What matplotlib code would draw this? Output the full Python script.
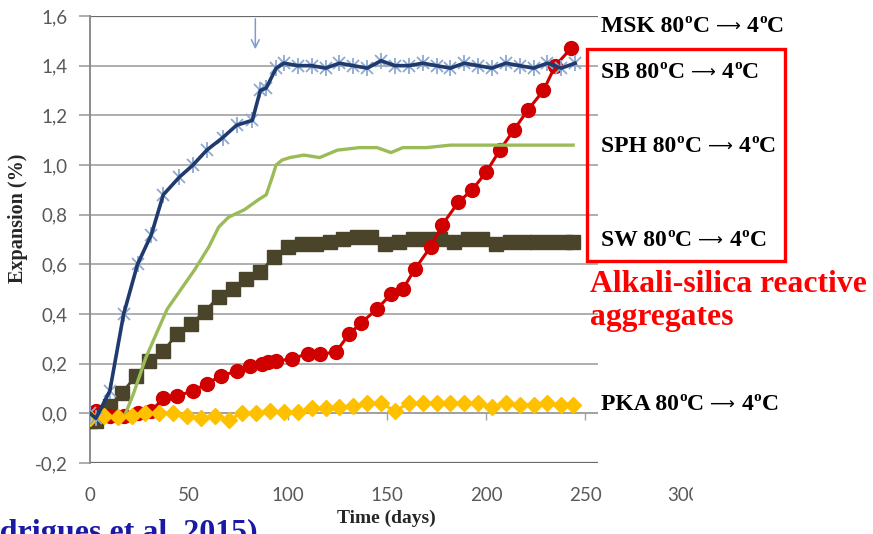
import matplotlib
matplotlib.use("Agg")
import matplotlib.pyplot as plt
from matplotlib.patches import Rectangle
from matplotlib.text import Annotation

# ---- data (expansion in %, time in days) ----
msk_days = [0, 3, 10, 17, 24, 31, 37, 45, 52, 59, 67, 74, 82, 86, 89, 94, 98, 105, 112,
            119, 126, 133, 140, 147, 154, 161, 168, 175, 182, 189, 196, 203, 210, 217,
            224, 231, 238, 245]
msk_vals = [0.0, -0.02, 0.09, 0.40, 0.60, 0.72, 0.88, 0.95, 1.00, 1.06, 1.11, 1.16, 1.18,
            1.30, 1.31, 1.39, 1.41, 1.40, 1.40, 1.39, 1.41, 1.40, 1.39, 1.42, 1.40, 1.40,
            1.41, 1.40, 1.39, 1.41, 1.40, 1.39, 1.41, 1.40, 1.39, 1.41, 1.39, 1.41]

sb_days = [0, 3, 10, 17, 24, 31, 37, 44, 52, 59, 66, 74, 81, 87, 90, 94, 102, 110, 116,
           124, 131, 137, 145, 152, 158, 164, 172, 178, 186, 193, 200, 207, 214, 221,
           229, 235, 243]
sb_vals = [0.0, 0.01, -0.01, -0.01, 0.0, 0.01, 0.06, 0.07, 0.09, 0.12, 0.15, 0.17, 0.19,
           0.20, 0.205, 0.21, 0.22, 0.24, 0.24, 0.245, 0.32, 0.365, 0.42, 0.48, 0.50,
           0.58, 0.67, 0.76, 0.85, 0.90, 0.97, 1.06, 1.14, 1.22, 1.30, 1.40, 1.47]

sph_days = [18, 22, 28, 34, 39, 46, 53, 60, 65, 70, 78, 85, 89, 92, 94, 97, 101, 108,
            116, 125, 136, 145, 152, 158, 170, 182, 195, 210, 225, 244]
sph_vals = [0.0, 0.08, 0.22, 0.33, 0.42, 0.50, 0.58, 0.67, 0.75, 0.79, 0.82, 0.86, 0.88,
            0.95, 1.00, 1.02, 1.03, 1.04, 1.03, 1.06, 1.07, 1.07, 1.05, 1.07, 1.07, 1.08,
            1.08, 1.08, 1.08, 1.08]

sw_days = [0, 3, 10, 16, 23, 30, 37, 44, 51, 58, 65, 72, 79, 86, 93, 100, 107, 114, 121,
           128, 135, 142, 149, 156, 163, 170, 177, 184, 191, 198, 205, 212, 219, 226,
           233, 240, 244]
sw_vals = [-0.03, -0.03, 0.03, 0.08, 0.15, 0.21, 0.25, 0.32, 0.36, 0.41, 0.47, 0.50,
           0.54, 0.57, 0.63, 0.67, 0.68, 0.68, 0.69, 0.70, 0.71, 0.71, 0.68, 0.69, 0.70,
           0.70, 0.70, 0.69, 0.70, 0.70, 0.68, 0.69, 0.69, 0.69, 0.69, 0.69, 0.69]

pka_days = [0, 7, 14, 21, 28, 35, 42, 49, 56, 63, 70, 77, 84, 91, 98, 105, 112, 119, 126,
            133, 140, 147, 154, 161, 168, 175, 182, 189, 196, 203, 210, 217, 224, 231,
            238, 244]
pka_vals = [-0.02, -0.01, -0.015, -0.01, 0.0, 0.0, 0.0, -0.01, -0.02, -0.01, -0.025, 0.0,
            0.0, 0.01, 0.005, 0.005, 0.02, 0.02, 0.025, 0.03, 0.04, 0.04, 0.01, 0.04, 0.04,
            0.04, 0.04, 0.04, 0.04, 0.025, 0.04, 0.035, 0.035, 0.04, 0.035, 0.035]

x_ticks = [0, 50, 100, 150, 200, 250, 300]
x_ticklabels = ['0', '50', '100', '150', '200', '250', '300']
y_ticks = [-0.2, 0.0, 0.2, 0.4, 0.6, 0.8, 1.0, 1.2, 1.4, 1.6]
y_ticklabels = ['-0,2', '0,0', '0,2', '0,4', '0,6', '0,8', '1,0', '1,2', '1,4', '1,6']

# aggregate name and the pixel row of its label baseline
series_labels = [('MSK', 32), ('SB', 78), ('SPH', 152), ('SW', 246), ('PKA', 410)]

W, H = 873, 534
fig = plt.figure(figsize=(W / 100, H / 100), dpi=100)
fig.patch.set_facecolor('white')

ax = fig.add_axes([90 / W, 1 - 463 / H, 594 / W, 447 / H])
ax.set_xlim(0, 300)
ax.set_ylim(-0.2, 1.6)

# gridlines
for yv in y_ticks:
    if yv in (-0.2, 1.6):
        ax.axhline(yv, color='#6a6a6a', lw=1.6, zorder=1)
    else:
        ax.axhline(yv, color='#a8a8a8', lw=1.3, zorder=1)

for s in ['right', 'bottom']:
    ax.spines[s].set_visible(False)
ax.spines['left'].set_color('#8c8c8c')
ax.spines['left'].set_linewidth(1.4)
# horizontal axis crossing at zero, tick marks hanging down
ax.spines['top'].set_position(('data', 0))
ax.spines['top'].set_color('#a0a0a0')
ax.spines['top'].set_linewidth(1.2)

ax.set_xticks(x_ticks)
ax.set_xticklabels(x_ticklabels)
ax.tick_params(axis='x', top=True, bottom=False, labeltop=False, labelbottom=True,
               direction='in', length=5, color='#a0a0a0', width=1.0,
               pad=17, labelsize=13.5, labelcolor='#595959')
ax.set_yticks(y_ticks)
ax.set_yticklabels(y_ticklabels)
ax.tick_params(axis='y', direction='out', length=8, color='#a0a0a0', width=1.2,
               pad=8, labelsize=13.5, labelcolor='#595959')
for lab in ax.get_xticklabels() + ax.get_yticklabels():
    lab.set_fontfamily('Lato')

# series
ax.plot(sw_days, sw_vals, color='#4a452a', lw=2, marker='s', ms=9.5,
        mec='#4a452a', mfc='#4a452a', zorder=3)
ax.plot(sb_days, sb_vals, color='#d00000', lw=2.2, marker='o', ms=10,
        mec='#d00000', mfc='#d00000', zorder=4)
ax.plot(sph_days, sph_vals, color='#9bbb59', lw=2.4, zorder=5)
ax.plot(pka_days, pka_vals, color='#ffc000', lw=2.2, marker='D', ms=8,
        mec='#ffc000', mfc='#ffc000', zorder=6)
ax.plot(msk_days, msk_vals, ls='none', marker='x', ms=9, mew=1.3,
        color='#8ea9d2', zorder=7)
ax.plot(msk_days, msk_vals, ls='none', marker='|', ms=11, mew=1.3,
        color='#8ea9d2', zorder=7)
ax.plot(msk_days, msk_vals, color='#1f3a6e', lw=2.6, zorder=8)

# arrow marking the temperature change
ax.annotate('', xy=(83.5, 1.455), xytext=(83.5, 1.6),
            arrowprops=dict(arrowstyle='->', color='#7f9ccf', lw=1.1,
                            mutation_scale=14), zorder=9)

ax.set_xlabel('Time (days)', family='Liberation Serif', fontweight='bold',
              fontsize=14, color='#262626')
ax.set_ylabel('Expansion (%)', family='Liberation Serif', fontweight='bold',
              fontsize=14.5, color='#262626')
ax.xaxis.set_label_coords((386 - 90) / 594, (463 - 518) / 447)
ax.xaxis.label.set_va('center')
ax.yaxis.set_label_coords((18 - 90) / 594, (463 - 218) / 447)
ax.yaxis.label.set_va('center')

# mask the right-hand part of the plot area
fig.add_artist(Rectangle((598 / W, 1 - 478 / H), 1, 1, transform=fig.transFigure,
                         facecolor='white', edgecolor='none', zorder=20))
fig.add_artist(Rectangle((693 / W, 0), 1, 1, transform=fig.transFigure,
                         facecolor='white', edgecolor='none', zorder=20))

SERIF = 'Liberation Serif'


def rich_label(x_px, base_px, pieces):
    """Write a run of text pieces side by side on one baseline."""
    y = 1 - base_px / H
    text, size, fam, weight, dx, dy = pieces[0]
    prev = fig.text(x_px / W, y, text, fontsize=size, family=fam, fontweight=weight,
                    va='baseline', ha='left', color='black', zorder=30)
    for text, size, fam, weight, dx, dy in pieces[1:]:
        a = Annotation(text, xy=(1, y), xycoords=(prev, 'figure fraction'),
                       xytext=(dx, dy), textcoords='offset points',
                       fontsize=size, family=fam, fontweight=weight,
                       va='baseline', ha='left', color='black', zorder=30,
                       annotation_clip=False)
        fig.add_artist(a)
        prev = a


for name, base in series_labels:
    rich_label(601, base, [
        (name + ' 80', 17, SERIF, 'bold', 0, 0),
        ('o', 11, SERIF, 'bold', 0.3, 6.2),
        ('C', 17, SERIF, 'bold', 0.2, 0),
        ('\u27f6', 12.5, 'DejaVu Sans', 'normal', 4.5, 0),
        ('4', 17, SERIF, 'bold', 4.5, 0),
        ('o', 11, SERIF, 'bold', 0.3, 6.2),
        ('C', 17, SERIF, 'bold', 0.2, 0),
    ])

fig.add_artist(Rectangle((587 / W, 1 - 261 / H), 198 / W, 212 / H,
                         transform=fig.transFigure, facecolor='none',
                         edgecolor='#ff0000', lw=2.4, zorder=31))

fig.text(590 / W, 1 - 285 / H, 'Alkali-silica reactive', family=SERIF,
         fontweight='bold', fontsize=22.8, color='#ff0000', va='center',
         ha='left', zorder=30)
fig.text(590 / W, 1 - 318 / H, 'aggregates', family=SERIF,
         fontweight='bold', fontsize=22.8, color='#ff0000', va='center',
         ha='left', zorder=30)

fig.text(-50 / W, 1 - 541 / H, '(Rodrigues et al. 2015)', family=SERIF,
         fontweight='bold', fontsize=23, color='#1a1aa6', va='baseline',
         ha='left', zorder=30)

fig.savefig('out.png', dpi=100, facecolor='white')
